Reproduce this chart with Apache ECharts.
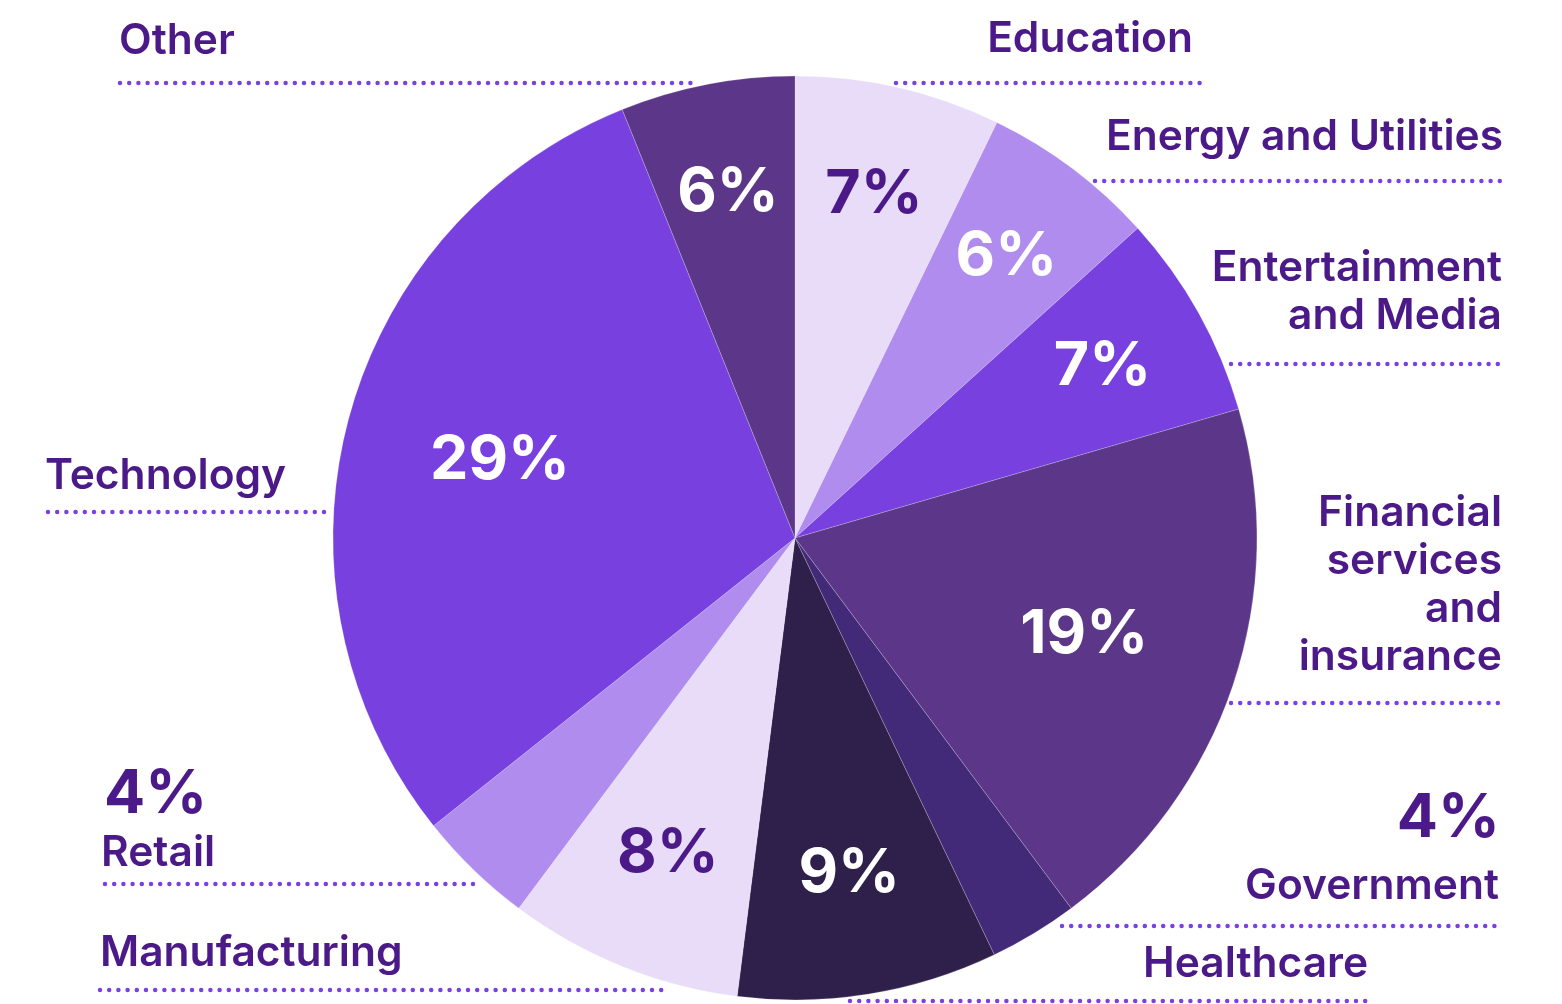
<!DOCTYPE html>
<html>
<head>
<meta charset="utf-8">
<title>Share by industry</title>
<script src="https://cdn.jsdelivr.net/npm/echarts@6/dist/echarts.min.js"></script>
<style>
  html, body { margin: 0; padding: 0; background: #fff; }
  #main { width: 1562px; height: 1004px; }
</style>
</head>
<body>
<div id="main"></div>
<script>
// data (clockwise from 12 o'clock)
const categories = ['Education', 'Energy and Utilities', 'Entertainment and Media', 'Financial services and insurance',
  'Government', 'Healthcare', 'Manufacturing', 'Retail', 'Technology', 'Other'];
const values = [7.2, 6.1, 7.2, 19.3, 3.1, 9.1, 8.2, 4.1, 29.6, 6.1];
const pctLabels = ['7%', '6%', '7%', '19%', '4%', '9%', '8%', '4%', '29%', '6%'];

const sliceColors = ['#e8dcf8', '#b08cee', '#7740df', '#5c3689', '#432a78', '#2f1f4b', '#e8dcf8', '#b08cee', '#7740df', '#5c3689'];
const textColor = '#4b1a88';
const dotColor = '#7b40e4';
const font = 'Inter, "Noto Sans", sans-serif';

const darkText = ['Education', 'Manufacturing'];   // light slices get purple numbers
const outsidePct = ['Government', 'Retail'];       // small slices: number sits with the name

// how deep the number sits in each slice (inner radius of the label ring)
const labelRings = [
  { inner: 236, names: ['Education', 'Energy and Utilities', 'Entertainment and Media', 'Other'] },
  { inner: 212, names: ['Healthcare', 'Manufacturing'] },
  { inner: 142, names: ['Technology', 'Financial services and insurance'] }
];

const cx = 795, cy = 538, R = 462;

function labelData(names) {
  return categories.map((c, i) => ({
    name: c,
    value: values[i],
    label: {
      show: names.includes(c),
      formatter: pctLabels[i],
      color: darkText.includes(c) ? textColor : '#fff'
    }
  }));
}

// callouts: name text + dotted rule
const callouts = [
  { name: 'Other', text: 'Other', x: 119, y: 41, align: 'left', line: [120, 697, 83] },
  { name: 'Education', text: 'Education', x: 1193, y: 39, align: 'right', line: [896, 1200, 83] },
  { name: 'Energy and Utilities', text: 'Energy and Utilities', x: 1503, y: 137, align: 'right', line: [1095, 1500, 181] },
  { name: 'Entertainment and Media', text: 'Entertainment\nand Media', x: 1502, y: 268, align: 'right', line: [1231, 1500, 364] },
  { name: 'Financial services and insurance', text: 'Financial\nservices\nand\ninsurance', x: 1502, y: 513, align: 'right', line: [1231, 1500, 703] },
  { name: 'Government', text: 'Government', x: 1499, y: 886, align: 'right', line: [1062, 1500, 926], pct: [1500, 819] },
  { name: 'Healthcare', text: 'Healthcare', x: 1143, y: 964, align: 'left', line: [850, 1367, 1001] },
  { name: 'Technology', text: 'Technology', x: 45, y: 476, align: 'left', line: [48, 333, 512] },
  { name: 'Retail', text: 'Retail', x: 101, y: 853, align: 'left', line: [105, 478, 884], pct: [104, 795] },
  { name: 'Manufacturing', text: 'Manufacturing', x: 100, y: 953, align: 'left', line: [100, 665, 990] }
];

const graphics = [];
callouts.forEach((c) => {
  graphics.push({
    type: 'text',
    silent: true,
    style: {
      text: c.text, x: c.x, y: c.y - 24,
      fill: textColor, font: '600 42.5px ' + font,
      textAlign: c.align, textVerticalAlign: 'top', lineHeight: 48
    }
  });
  graphics.push({
    type: 'line',
    silent: true,
    shape: { x1: c.line[0], y1: c.line[2], x2: c.line[1], y2: c.line[2] },
    style: { stroke: dotColor, lineWidth: 4.5, lineCap: 'round', lineDash: [0, 9.2] }
  });
  if (c.pct) {
    const i = categories.indexOf(c.name);
    graphics.push({
      type: 'text',
      silent: true,
      style: {
        text: pctLabels[i], x: c.pct[0], y: c.pct[1],
        fill: textColor, font: '700 61px ' + font,
        textAlign: c.align, textVerticalAlign: 'middle'
      }
    });
  }
});

const chart = echarts.init(document.getElementById('main'));

const series = [
  {
    type: 'pie',
    center: [cx, cy],
    radius: [0, R],
    startAngle: 90,
    clockwise: true,
    silent: true,
    label: { show: false },
    labelLine: { show: false },
    itemStyle: { borderWidth: 0.6, borderColor: 'rgba(255,255,255,0.35)' },
    data: categories.map((c, i) => ({ name: c, value: values[i] }))
  }
];

// transparent rings that only carry the percentage labels
labelRings.forEach((ring) => {
  series.push({
    type: 'pie',
    center: [cx, cy],
    radius: [ring.inner, R],
    startAngle: 90,
    silent: true,
    itemStyle: { color: 'rgba(0,0,0,0)' },
    label: {
      position: 'inside',
      fontFamily: font,
      fontSize: 61,
      fontWeight: 700
    },
    labelLine: { show: false },
    data: labelData(ring.names.filter((n) => !outsidePct.includes(n)))
  });
});

chart.setOption({
  animation: false,
  color: sliceColors,
  series: series,
  graphic: graphics
});
</script>
</body>
</html>
